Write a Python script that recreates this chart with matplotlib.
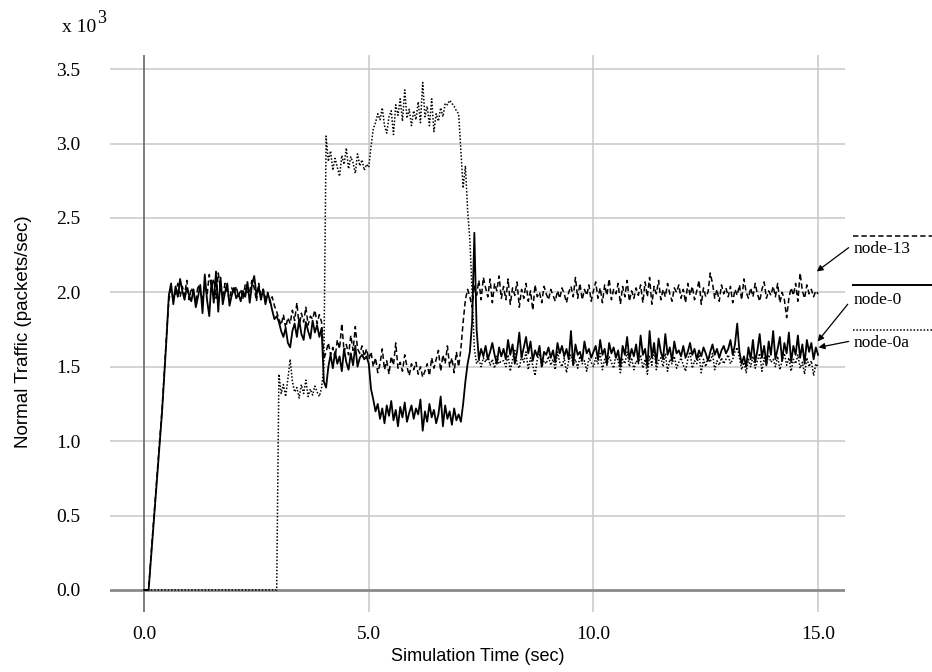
import numpy as np
import matplotlib.pyplot as plt

XLABEL = "Simulation Time (sec)"
YLABEL = "Normal Traffic (packets/sec)"

# sample times, 0.05 s apart (0.0 .. 15.0)
time = np.round(np.arange(301) * 0.05, 2)

# traffic values, in thousands of packets/sec, one row per second
node_0 = [
    0, 0, 0, 0.2, 0.4, 0.6, 0.8, 1.0, 1.2, 1.45, 1.7, 1.98, 2.06, 1.92, 2.04, 1.97, 2.09, 2.01, 1.95, 2.03,
    1.98, 1.94, 2.02, 1.90, 1.97, 2.05, 1.86, 2.12, 1.95, 1.84, 2.08, 1.93, 2.14, 1.87, 2.10, 1.92, 2.00, 2.06, 1.91, 1.98,
    2.03, 1.96, 1.99, 1.94, 2.01, 1.97, 2.07, 1.93, 2.05, 2.11, 1.98, 2.04, 1.95, 2.02, 1.92, 1.99, 1.95, 1.88, 1.82, 1.84,
    1.80, 1.74, 1.70, 1.76, 1.66, 1.63, 1.74, 1.79, 1.70, 1.82, 1.72, 1.68, 1.80, 1.74, 1.69, 1.81, 1.73, 1.78, 1.70, 1.76,
    1.40, 1.36, 1.50, 1.58, 1.49, 1.60, 1.52, 1.57, 1.47, 1.62, 1.53, 1.48, 1.59, 1.51, 1.64, 1.50, 1.56, 1.58, 1.55, 1.57,
    1.52, 1.35, 1.28, 1.20, 1.25, 1.15, 1.22, 1.12, 1.24, 1.17, 1.27, 1.14, 1.21, 1.10, 1.23, 1.16, 1.26, 1.13, 1.19, 1.24,
    1.15, 1.22, 1.18, 1.28, 1.07, 1.20, 1.13, 1.25, 1.16, 1.21, 1.12, 1.18, 1.30, 1.10, 1.24, 1.15, 1.20, 1.11, 1.22, 1.14,
    1.18, 1.13, 1.25, 1.40, 1.52, 1.60, 1.80, 2.40, 1.75, 1.55, 1.62, 1.57, 1.64, 1.55, 1.60, 1.66, 1.58, 1.52, 1.63, 1.57,
    1.62, 1.55, 1.68, 1.58, 1.65, 1.52, 1.60, 1.73, 1.56, 1.63, 1.70, 1.59, 1.67, 1.54, 1.61, 1.57, 1.64, 1.50, 1.60, 1.58,
    1.63, 1.56, 1.61, 1.53, 1.66, 1.59, 1.64, 1.57, 1.62, 1.55, 1.74, 1.51, 1.65, 1.58, 1.60, 1.54, 1.67, 1.59, 1.62, 1.56,
    1.60, 1.64, 1.55, 1.68, 1.58, 1.62, 1.52, 1.66, 1.59, 1.63, 1.56, 1.61, 1.50, 1.64, 1.58, 1.70, 1.55, 1.62, 1.57, 1.65,
    1.53, 1.71, 1.58, 1.62, 1.50, 1.74, 1.56, 1.66, 1.52, 1.69, 1.60, 1.55, 1.72, 1.58, 1.63, 1.54, 1.67, 1.59, 1.61, 1.57,
    1.64, 1.56, 1.60, 1.66, 1.58, 1.62, 1.55, 1.61, 1.57, 1.63, 1.59, 1.54, 1.60, 1.65, 1.58, 1.62, 1.56, 1.61, 1.64, 1.59,
    1.62, 1.68, 1.58, 1.65, 1.79, 1.60, 1.52, 1.57, 1.50, 1.63, 1.55, 1.68, 1.53, 1.61, 1.72, 1.56, 1.64, 1.51, 1.67, 1.58,
    1.74, 1.55, 1.62, 1.70, 1.54, 1.66, 1.59, 1.73, 1.53, 1.64, 1.58, 1.71, 1.56, 1.65, 1.52, 1.68, 1.60, 1.66, 1.55, 1.63,
    1.58,
]

node_13 = [
    0, 0, 0, 0.22, 0.42, 0.62, 0.82, 1.02, 1.22, 1.47, 1.72, 1.95, 2.02, 1.96, 1.99, 2.06, 1.97, 2.04, 1.98, 2.08,
    1.95, 2.03, 1.99, 1.93, 2.05, 2.01, 1.94, 2.07, 1.98, 2.12, 2.04, 2.09, 1.96, 2.13, 2.02, 1.97, 2.06, 2.00, 1.95, 2.03,
    1.99, 2.04, 1.97, 2.02, 1.96, 2.05, 1.99, 2.01, 2.08, 2.03, 1.94, 2.06, 1.98, 2.02, 1.96, 2.00, 1.93, 1.97, 1.91, 1.87,
    1.82, 1.78, 1.85, 1.76, 1.83, 1.79, 1.88, 1.81, 1.93, 1.77, 1.86, 1.80, 1.90, 1.78, 1.84, 1.82, 1.88, 1.79, 1.85, 1.80,
    1.55, 1.60, 1.66, 1.58, 1.63, 1.56, 1.68, 1.62, 1.79, 1.60, 1.65, 1.58, 1.71, 1.61, 1.77, 1.62, 1.59, 1.64, 1.57, 1.62,
    1.55, 1.60, 1.50, 1.56, 1.46, 1.52, 1.62, 1.48, 1.54, 1.45, 1.57, 1.51, 1.66, 1.49, 1.53, 1.47, 1.58, 1.50, 1.44, 1.52,
    1.48, 1.53, 1.45, 1.50, 1.43, 1.47, 1.52, 1.44, 1.56, 1.49, 1.55, 1.61, 1.47, 1.58, 1.52, 1.64, 1.50, 1.56, 1.46, 1.60,
    1.50, 1.62, 1.80, 1.95, 2.02, 1.97, 1.90, 2.05, 1.98, 2.08, 1.95, 2.10, 2.03, 1.97, 2.09, 1.93, 2.06, 2.01, 2.11, 1.96,
    2.04, 1.95, 2.09, 1.92, 2.03, 1.98, 2.07, 1.90, 2.02, 1.96, 2.06, 1.94, 2.01, 1.88, 2.05, 1.97, 2.00, 1.93, 2.04, 1.99,
    1.95, 2.02, 1.98, 1.94, 2.01, 1.96, 2.03, 1.99, 1.93, 2.00, 2.04, 1.97, 2.10, 1.96, 2.06, 1.95, 2.02, 1.98, 2.05, 1.94,
    2.01, 2.07, 1.96, 2.03, 1.93, 2.05, 1.98, 2.09, 1.95, 2.02, 1.99, 2.06, 1.92, 2.04, 1.97, 2.08, 1.94, 2.01, 1.96, 2.03,
    1.98, 2.05, 1.93, 2.07, 1.97, 2.10, 1.92, 2.04, 1.99, 2.08, 1.95, 2.02, 1.97, 2.06, 1.99, 1.94, 2.03, 2.00, 2.05, 1.96,
    2.02, 1.93, 2.06, 1.98, 2.04, 1.95, 2.01, 2.08, 1.92, 2.03, 1.97, 2.00, 2.13, 2.06, 1.96, 2.02, 1.94, 2.05, 1.99, 2.03,
    1.97, 2.04, 1.93, 2.02, 1.98, 2.05, 1.95, 2.09, 2.00, 1.96, 2.03, 1.97, 2.06, 1.99, 1.94, 2.02, 2.07, 1.96, 2.01, 1.98,
    2.04, 1.97, 2.06, 1.93, 2.00, 1.95, 1.83, 1.96, 2.03, 1.98, 2.06, 1.94, 2.13, 2.01, 1.96, 2.05, 1.99, 2.02, 1.97, 2.01,
    1.99,
]

node_0a = [
    0, 0, 0, 0, 0, 0, 0, 0, 0, 0, 0, 0, 0, 0, 0, 0, 0, 0, 0, 0,
    0, 0, 0, 0, 0, 0, 0, 0, 0, 0, 0, 0, 0, 0, 0, 0, 0, 0, 0, 0,
    0, 0, 0, 0, 0, 0, 0, 0, 0, 0, 0, 0, 0, 0, 0, 0, 0, 0, 0, 0,
    1.45, 1.32, 1.38, 1.30, 1.42, 1.55, 1.40, 1.33, 1.36, 1.29, 1.38, 1.32, 1.41, 1.30, 1.35, 1.31, 1.37, 1.33, 1.30, 1.36,
    1.50, 3.05, 2.88, 2.95, 2.82, 2.90, 2.84, 2.78, 2.92, 2.86, 2.97, 2.83, 2.91, 2.87, 2.80, 2.93, 2.85, 2.89, 2.82, 2.86,
    2.84, 2.98, 3.10, 3.14, 3.20, 3.16, 3.24, 3.12, 3.07, 3.18, 3.22, 3.06, 3.26, 3.19, 3.30, 3.15, 3.36, 3.17, 3.23, 3.12,
    3.22, 3.16, 3.28, 3.14, 3.41, 3.18, 3.25, 3.12, 3.30, 3.08, 3.20, 3.15, 3.24, 3.18, 3.27, 3.26, 3.29, 3.27, 3.25, 3.22,
    3.20, 2.95, 2.70, 2.85, 2.55, 2.35, 2.00, 1.62, 1.52, 1.55, 1.50, 1.56, 1.53, 1.58, 1.51, 1.55, 1.49, 1.57, 1.52, 1.54,
    1.54, 1.50, 1.58, 1.47, 1.55, 1.61, 1.52, 1.49, 1.57, 1.53, 1.60, 1.48, 1.56, 1.51, 1.44, 1.55, 1.59, 1.50, 1.54, 1.52,
    1.57, 1.51, 1.55, 1.48, 1.60, 1.53, 1.50, 1.56, 1.46, 1.54, 1.58, 1.51, 1.55, 1.49, 1.57, 1.52, 1.54, 1.47, 1.56, 1.53,
    1.50, 1.56, 1.52, 1.59, 1.48, 1.55, 1.51, 1.57, 1.53, 1.49, 1.58, 1.54, 1.46, 1.55, 1.52, 1.60, 1.50, 1.56, 1.48, 1.54,
    1.52, 1.58, 1.49, 1.55, 1.45, 1.57, 1.51, 1.62, 1.48, 1.54, 1.56, 1.50, 1.59, 1.47, 1.55, 1.52, 1.57, 1.49, 1.53, 1.56,
    1.51, 1.47, 1.55, 1.60, 1.49, 1.54, 1.52, 1.58, 1.46, 1.55, 1.50, 1.57, 1.53, 1.59, 1.48, 1.54, 1.51, 1.56, 1.52, 1.55,
    1.58, 1.52, 1.55, 1.60, 1.63, 1.56, 1.48, 1.53, 1.46, 1.55, 1.50, 1.57, 1.49, 1.54, 1.59, 1.47, 1.56, 1.51, 1.58, 1.53,
    1.55, 1.50, 1.57, 1.48, 1.54, 1.59, 1.51, 1.56, 1.47, 1.55, 1.52, 1.58, 1.49, 1.53, 1.45, 1.56, 1.50, 1.54, 1.44, 1.52,
    1.50,
]

XTICKS = [0, 5, 10, 15]
YTICKS = [0, 0.5, 1.0, 1.5, 2.0, 2.5, 3.0, 3.5]
LABELS = ["node-13", "node-0", "node-0a"]

SERIF = "Liberation Serif"
SANS = "Liberation Sans"


def main():
    fig = plt.figure(figsize=(9.32, 6.72), dpi=100)
    ax = fig.add_axes([0.118, 0.0893, 0.7887, 0.8289])

    ax.set_xlim(-0.76, 15.6)
    ax.set_ylim(-0.148, 3.595)
    for s in ax.spines.values():
        s.set_visible(False)

    # grid
    for yv in YTICKS[1:]:
        ax.axhline(yv, color="#c8c8c8", lw=1.1, zorder=0)
    for xv in XTICKS[1:]:
        ax.axvline(xv, color="#c8c8c8", lw=1.1, zorder=0)
    ax.axhline(0, color="#8a8a8a", lw=2.0, zorder=1)
    ax.axvline(0, color="#666666", lw=1.2, zorder=1)

    ax.plot(time, node_0a, color="black", lw=1.1, linestyle=(0, (1, 1.2)), zorder=3)
    ax.plot(time, node_13, color="black", lw=1.1, linestyle=(0, (3.5, 2)), zorder=4)
    ax.plot(time, node_0, color="black", lw=1.3, zorder=5)

    ax.set_xticks(XTICKS)
    ax.set_xticklabels(["%.1f" % v for v in XTICKS], fontfamily=SERIF, fontsize=14)
    ax.set_yticks(YTICKS)
    ax.set_yticklabels(["%.1f" % v for v in YTICKS], fontfamily=SERIF, fontsize=14)
    ax.tick_params(axis="x", length=0, pad=10)
    ax.tick_params(axis="y", length=0, pad=21.5)

    ax.set_xlabel(XLABEL, fontfamily=SANS, fontsize=13)
    ax.set_ylabel(YLABEL, fontfamily=SANS, fontsize=13.5)
    ax.xaxis.set_label_coords(0.5, -0.064)
    ax.yaxis.set_label_coords(-0.106, 0.504)

    # multiplier
    fig.text(62 / 932, 1 - 32 / 672, "x 10", fontfamily=SERIF, fontsize=14, va="baseline")
    fig.text(97 / 932, 1 - 23 / 672, "3", fontfamily=SERIF, fontsize=13, va="baseline")

    # labels with arrows on the right
    styles = [(0, (3.5, 2)), "-", (0, (1, 1.2))]
    sample_y = [2.38, 2.05, 1.75]
    text_y = [2.29, 1.95, 1.66]
    tips = [(14.97, 2.14), (14.99, 1.67), (15.01, 1.63)]
    starts = [(15.68, 2.30), (15.66, 1.92), (15.68, 1.67)]
    for lab, ls, sy, ty, tip, st in zip(LABELS, styles, sample_y, text_y, tips, starts):
        ax.plot([15.78, 17.6], [sy, sy], color="black", lw=1.1 if ls != "-" else 1.4,
                linestyle=ls, clip_on=False)
        ax.text(15.8, ty, lab, fontfamily=SERIF, fontsize=12.5, va="center", ha="left",
                clip_on=False)
        ax.annotate("", xy=tip, xytext=st, annotation_clip=False,
                    arrowprops=dict(arrowstyle="-|>", color="black", lw=0.9,
                                    mutation_scale=9, shrinkA=0, shrinkB=0))

    fig.savefig("out.png", dpi=100, facecolor="white")


if __name__ == "__main__":
    main()
